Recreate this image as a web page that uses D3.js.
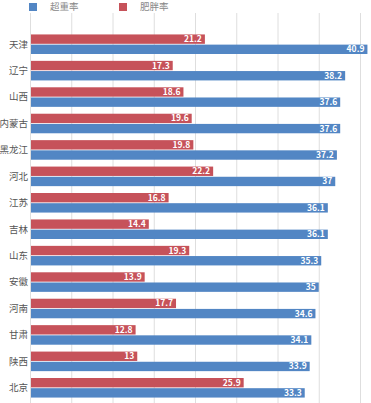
<!DOCTYPE html>
<html>
<head>
<meta charset="utf-8">
<script src="https://cdn.jsdelivr.net/npm/d3@7"></script>
<style>
  body { margin: 0; background: #fff; }
  svg { display: block; font-family: "Noto Sans CJK SC", "Noto Sans", sans-serif; }
</style>
</head>
<body>
<div id="chart"></div>
<script>
var provinces = ['天津', '辽宁', '山西', '内蒙古', '黑龙江', '河北', '江苏', '吉林', '山东', '安徽', '河南', '甘肃', '陕西', '北京'];
var overweight = [40.9, 38.2, 37.6, 37.6, 37.2, 37, 36.1, 36.1, 35.3, 35, 34.6, 34.1, 33.9, 33.3];
var obesity = [21.2, 17.3, 18.6, 19.6, 19.8, 22.2, 16.8, 14.4, 19.3, 13.9, 17.7, 12.8, 13, 25.9];
var seriesNames = ['肥胖率', '超重率'];
var legendNames = ['超重率', '肥胖率'];
var gridTicks = [0, 5, 10, 15, 20, 25, 30, 35, 40];

var width = 371, height = 403;
var colors = {'超重率': '#5286c4', '肥胖率': '#c6525a'};

var svg = d3.select('#chart')
    .append('svg')
    .attr('width', width)
    .attr('height', height);

var xScale = d3.scaleLinear()
    .domain([0, 40])
    .range([30, 360]);

var yScale = d3.scaleBand()
    .domain(provinces)
    .range([31, 401])
    .paddingInner(0.26)
    .paddingOuter(0.13);

var subScale = d3.scaleBand()
    .domain(seriesNames)
    .range([0, yScale.bandwidth()])
    .paddingInner(0.08);

// vertical gridlines
svg.append('g')
    .selectAll('line')
    .data(gridTicks)
    .enter().append('line')
    .attr('x1', function(d) { return xScale(d) + 0.5; })
    .attr('x2', function(d) { return xScale(d) + 0.5; })
    .attr('y1', 13)
    .attr('y2', height)
    .attr('stroke', '#dedede')
    .attr('stroke-width', 1);

// legend
var legend = svg.append('g')
    .selectAll('g')
    .data(legendNames)
    .enter().append('g')
    .attr('transform', function(d, i) { return 'translate(' + (29 + i * 90) + ',3)'; });

legend.append('rect')
    .attr('width', 8)
    .attr('height', 8)
    .attr('fill', function(d) { return colors[d]; });

legend.append('text')
    .attr('x', 21)
    .attr('y', 4)
    .attr('dy', '0.35em')
    .attr('font-size', 9.5)
    .attr('fill', '#888')
    .text(function(d) { return d; });

var rows = provinces.map(function(p, i) {
    return {name: p, values: [
        {key: '肥胖率', value: obesity[i]},
        {key: '超重率', value: overweight[i]}
    ]};
});

var row = svg.append('g')
    .selectAll('g')
    .data(rows)
    .enter().append('g')
    .attr('transform', function(d) { return 'translate(0,' + yScale(d.name) + ')'; });

row.append('text')
    .attr('x', 28)
    .attr('y', yScale.bandwidth() / 2)
    .attr('dy', '0.35em')
    .attr('text-anchor', 'end')
    .attr('font-size', 9.5)
    .attr('fill', '#555')
    .text(function(d) { return d.name; });

var bar = row.selectAll('g.bar')
    .data(function(d) { return d.values; })
    .enter().append('g')
    .attr('class', 'bar');

bar.append('rect')
    .attr('x', xScale(0) + 1)
    .attr('y', function(d) { return subScale(d.key); })
    .attr('width', function(d) { return xScale(d.value) - xScale(0) - 1; })
    .attr('height', subScale.bandwidth())
    .attr('fill', function(d) { return colors[d.key]; });

bar.append('text')
    .attr('x', function(d) { return xScale(d.value) - 3; })
    .attr('y', function(d) { return subScale(d.key) + subScale.bandwidth() / 2; })
    .attr('dy', '0.35em')
    .attr('text-anchor', 'end')
    .attr('font-size', 8.5)
    .attr('font-weight', 'bold')
    .attr('fill', '#fff')
    .text(function(d) { return d.value; });
</script>
</body>
</html>
